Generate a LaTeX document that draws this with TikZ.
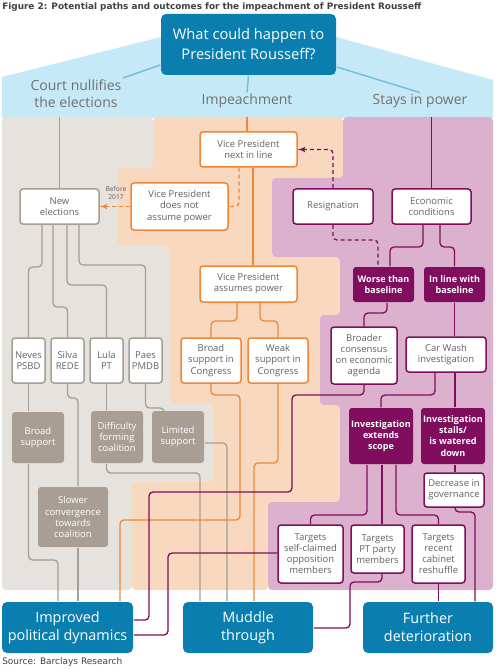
\documentclass[tikz,border=0pt]{standalone}
\usepackage{graphicx}
\usepackage{fontspec}
\setmainfont{Open Sans}
\newfontfamily\verdfont{DejaVu Sans}
\usepackage{tikz}
\usetikzlibrary{arrows,calc,positioning}
\newlength{\pxl}\setlength{\pxl}{0.75pt}
\definecolor{rblue}{RGB}{11,126,176}
\definecolor{rband}{RGB}{198,233,247}
\definecolor{rbline}{RGB}{112,192,224}
\definecolor{rgreyreg}{RGB}{230,226,221}
\definecolor{rgrey}{RGB}{168,158,148}
\definecolor{rorreg}{RGB}{248,216,190}
\definecolor{ror}{RGB}{239,135,55}
\definecolor{rpureg}{RGB}{220,177,206}
\definecolor{rpu}{RGB}{128,13,94}
\definecolor{rtext}{RGB}{98,98,100}
\definecolor{rlabel}{RGB}{112,112,114}
\definecolor{rtitle}{RGB}{64,64,64}

\begin{document}
\begin{tikzpicture}[x=0.75pt,y=-0.75pt,>=latex',
  box/.style={rectangle,rounded corners=3\pxl,fill=white,line width=1.5\pxl,align=center,inner sep=0pt,text=rtext,font=\fontsize{7.1}{8.3}\selectfont},
  sz/.style 2 args={minimum width=#1\pxl,minimum height=#2\pxl},
  gbox/.style={box,draw=rgrey},
  gfill/.style={box,fill=rgrey,text=white},
  obox/.style={box,draw=ror},
  pbox/.style={box,draw=rpu},
  pfill/.style={box,fill=rpu,text=white,font=\fontsize{6.8}{8.3}\selectfont\bfseries},
  outcome/.style={box,fill=rblue,text=white,rounded corners=5\pxl,font=\fontsize{10.8}{13.5}\selectfont},
  lbl/.style={align=center,inner sep=1pt,text=rlabel,font=\fontsize{10.5}{12.75}\selectfont},
  conn/.style={line width=1.3\pxl,rounded corners=4\pxl},
  gline/.style={conn,draw=rgrey},
  oline/.style={conn,draw=ror},
  pline/.style={conn,draw=rpu},
  bline/.style={line width=1.5\pxl,draw=rbline},
  dotline/.style={dash pattern=on 4\pxl off 3\pxl}]
\useasboundingbox (0,0) rectangle (503,670);

\fill[rband] (2,118) -- (2,77) -- (161,37) -- (336,37) -- (493,80) -- (493,118) -- cycle;
\fill[rgreyreg,rounded corners=4\pxl] (2,117) -- (153,117) -- (153,168) -- (117,168) -- (117,246) -- (170,246) -- (170,403) -- (213,403) -- (213,482) -- (132,482) -- (132,590) -- (2,590) -- cycle;
\fill[rorreg,rounded corners=4\pxl] (153,117) -- (343,117) -- (343,178) -- (272,178) -- (272,257) -- (340,257) -- (340,315) -- (320,315) -- (320,405) -- (340,405) -- (340,502) -- (268,502) -- (268,590) -- (132,590) -- (132,482) -- (213,482) -- (213,403) -- (170,403) -- (170,246) -- (117,246) -- (117,168) -- (153,168) -- cycle;
\fill[rpureg,rounded corners=4\pxl] (343,117) -- (493,117) -- (493,590) -- (268,590) -- (268,502) -- (340,502) -- (340,405) -- (320,405) -- (320,315) -- (340,315) -- (340,257) -- (272,257) -- (272,178) -- (343,178) -- cycle;

\node[anchor=west,inner sep=0pt,text=rtitle] (ttl) at (2,7) {\resizebox{419\pxl}{!}{\verdfont\bfseries Figure 2: Potential paths and outcomes for the impeachment of President Rousseff}};
\node[anchor=west,inner sep=0pt,text=rtitle] (src) at (2,662) {\resizebox{120\pxl}{!}{\verdfont Source: Barclays Research}};

\node[outcome,sz={175}{61},font=\fontsize{11}{15}\selectfont] (top) at (248.5,44.5) {What could happen to\\President Rousseff?};
\node[lbl] (court) at (76,93.5) {Court nullifies\\the elections};
\node[lbl] (imp) at (247,101) {Impeachment};
\node[lbl] (stay) at (420,101) {Stays in power};
\draw[bline] (top.west |- 0,65) -- (court.north east);
\draw[bline] (top.south) -- (imp.north);
\draw[bline] (top.east |- 0,67) -- (stay.north);
\coordinate (gtop) at (59.5,117);
\coordinate (otop) at (247,117);
\coordinate (ptop) at (431.5,117);

\node[gbox,sz={79}{35}] (ne) at (59.5,206.5) {New\\elections};
\node[text=rtext,align=center,inner sep=0pt,font=\fontsize{5}{6.5}\selectfont] (bef) at (116,193) {Before\\2017};
\node[gbox,sz={33}{45}] (nev) at (28.5,360.5) {Neves\\PSBD};
\node[gbox,sz={33}{45}] (sil) at (67.5,360.5) {Silva\\REDE};
\node[gbox,sz={33}{45}] (lul) at (106.5,360.5) {Lula\\PT};
\node[gbox,sz={33}{45}] (pae) at (145.5,360.5) {Paes\\PMDB};
\node[gfill,sz={52}{51}] (bs) at (38,437.5) {Broad\\support};
\node[gfill,sz={52}{52}] (dfc) at (117,437) {Difficulty\\forming\\coalition};
\node[gfill,sz={52}{52}] (ls) at (178,437) {Limited\\support};
\node[gfill,sz={70}{60}] (sc) at (73,517) {Slower\\convergence\\towards\\coalition};

\node[obox,sz={97}{35}] (vpn) at (248.5,149.5) {Vice President\\next in line};
\node[obox,sz={97}{47}] (vpd) at (179.5,206.5) {Vice President\\does not\\assume power};
\node[obox,sz={97}{36}] (vpa) at (248.5,284) {Vice President\\assumes power};
\node[obox,sz={60}{45}] (bsc) at (211,360.5) {Broad\\support in\\Congress};
\node[obox,sz={60}{45}] (wsc) at (278,360.5) {Weak\\support in\\Congress};

\node[pbox,sz={80}{35}] (res) at (333,206.5) {Resignation};
\node[pbox,sz={79}{35}] (eco) at (431.5,206.5) {Economic\\conditions};
\node[pfill,sz={61}{35}] (wtb) at (383.5,284.5) {Worse than\\baseline};
\node[pfill,sz={61}{35}] (ilb) at (454.5,284.5) {In line with\\baseline};
\node[pbox,sz={66}{57}] (bce) at (364,355.5) {Broader\\consensus\\on economic\\agenda};
\node[pbox,sz={80}{35}] (cwi) at (446,354.5) {Car Wash\\investigation};
\node[pfill,sz={64}{56}] (ies) at (381,436) {Investigation\\extends\\scope};
\node[pfill,sz={64}{56}] (isd) at (453,436) {Investigation\\stalls/\\is watered\\down};
\node[pbox,sz={60}{34}] (dig) at (454,490) {Decrease in\\governance};
\node[pbox,sz={65}{58}] (tso) at (310.5,554) {Targets\\self-claimed\\opposition\\members};
\node[pbox,sz={53}{48}] (tpt) at (377.5,549) {Targets\\PT party\\members};
\node[pbox,sz={53}{58}] (trc) at (438.5,554) {Targets\\recent\\cabinet\\reshuffle};

\node[outcome,sz={131}{51}] (ipd) at (67.5,627.5) {Improved\\political dynamics};
\node[outcome,sz={130}{51}] (mdt) at (248,627.5) {Muddle\\through};
\node[outcome,sz={130}{51}] (fdt) at (428,627.5) {Further\\deterioration};

\draw[gline] (gtop) -- (ne.north);
\draw[gline] (ne.south -| 42,0) -- (42,267) -| (nev.north);
\draw[gline] (ne.south -| 53,0) -- (53,307) -| (sil.north);
\draw[gline] (ne.south -| 67,0) -- (67,285) -| (lul.north);
\draw[gline] (ne.south -| 79,0) -- (79,265) -| (pae.north);
\draw[gline] (nev.south) -- (nev.south |- bs.north);
\draw[gline] (bs.south -| nev.south) -- (28.5,560) -| (ipd.north -| 58,0);
\draw[gline] (sil.south) -- (67.5,398) -| (sc.north -| 78,0);
\draw[gline] (sc.south -| 78,0) -- (ipd.north -| 78,0);
\draw[gline] (lul.south) -- (lul.south |- dfc.north);
\draw[gline] (dfc.south -| lul.south) -- (106.5,473) -| (mdt.north -| 200,0);
\draw[gline] (pae.south) -- (145.5,408) -| (ls.north -| 164,0);
\draw[gline] (ls.east |- 0,443) -| (mdt.north -| 227,0);

\draw[oline] (otop) -- (vpn.north -| otop);
\draw[oline] (vpn.south -| 253,0) -- (vpa.north -| 253,0);
\draw[oline,dotline] (vpn.south -| 239,0) |- (vpd.east);
\draw[oline,dotline,->] (vpd.west) -- (ne.east);
\draw[oline] (vpa.south -| 237,0) -- (237,321) -| (bsc.north);
\draw[oline] (vpa.south -| 260,0) -- (260,321) -| (wsc.north);
\draw[oline] (bsc.south) -- (211,395) -| (240,520) -| (ipd.north -| 120,0);
\draw[oline] (wsc.south) -- (278,463) -| (mdt.north -| 254,0);

\draw[pline] (ptop) -- (eco.north);
\draw[pline,dotline,->] (res.north) |- (vpn.east);
\draw[pline,dotline] (res.south) -- (333,240) -| (wtb.north -| 378,0);
\draw[pline] (eco.south -| 423,0) -- (423,247) -| (wtb.north -| 390,0);
\draw[pline] (eco.south -| 440,0) -- (440,247) -| (ilb.north);
\draw[pline] (wtb.south -| 387,0) -- (387,313) -| (bce.north);
\draw[pline] (ilb.south) -- (ilb.south |- cwi.north);
\draw[pline] (bce.south) -- (364,395) -| (292,492) -- (149,492) |- (ipd.east |- 0,620);
\draw[pline] (cwi.south -| 435,0) -- (435,395) -| (ies.north);
\draw[pline] (cwi.south -| 455,0) -- (isd.north -| 455,0);
\draw[pline] (isd.south -| 455,0) -- (dig.north -| 455,0);
\draw[pline] (dig.south -| 455,0) -- (455,512) -| (fdt.north -| 475,0);
\draw[pline] (ies.south -| 367,0) -- (367,515) -| (tso.north);
\draw[pline] (ies.south -| 382,0) -- (tpt.north -| 382,0);
\draw[pline] (ies.south -| 396,0) -- (396,515) -| (trc.north);
\draw[pline] (tso.west |- 0,553) -| (168,635) -- (ipd.east |- 0,635);
\draw[pline] (tpt.south -| 382,0) -- (382,582) -| (350,628) -- (mdt.east |- 0,628);
\draw[pline] (trc.south) -- (trc.south |- fdt.north);
\end{tikzpicture}
\end{document}
